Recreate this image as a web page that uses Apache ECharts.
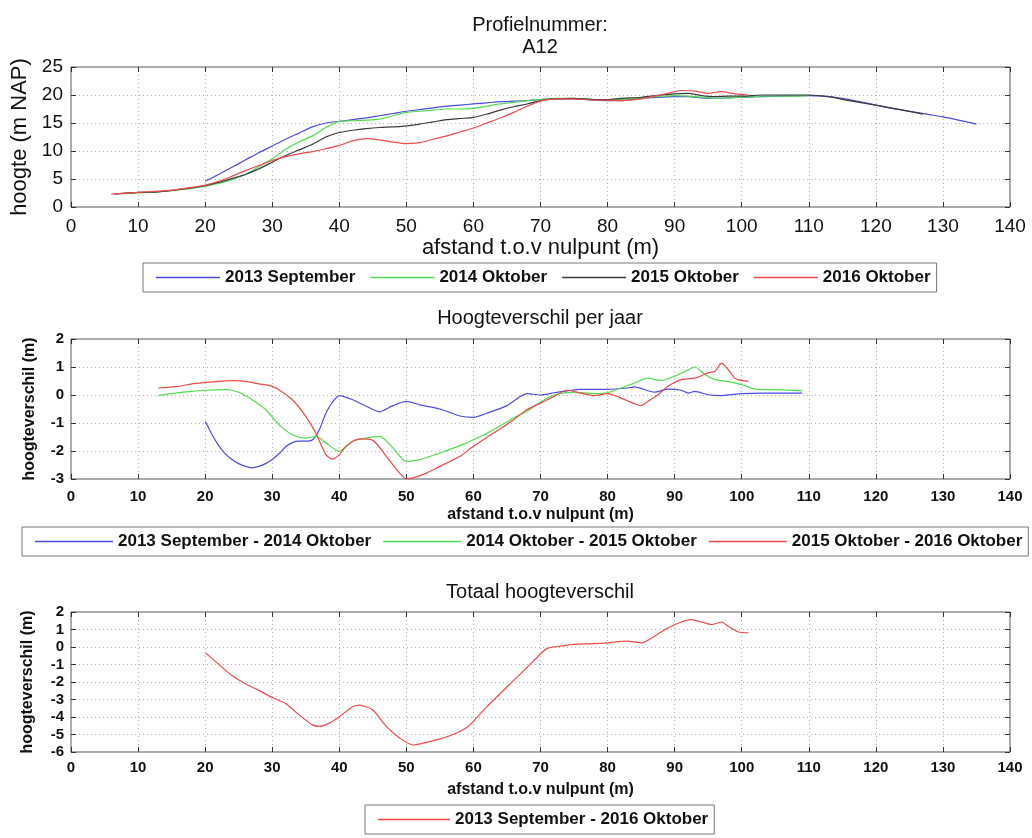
<!DOCTYPE html>
<html>
<head>
<meta charset="utf-8">
<title>Profielnummer A12</title>
<script src="https://cdn.jsdelivr.net/npm/echarts@6/dist/echarts.min.js"></script>
<style>
  html, body { margin: 0; padding: 0; background: #ffffff; }
  #chart { width: 1032px; height: 838px; }
</style>
</head>
<body>
<div id="chart"></div>
<script>
// ---- Profielmetingen: afstand (m) en hoogte (m NAP) ----
const x2013 = [20,22,24,26,28,30,32,34,36,38,40,42,44,46,48,50,52,54,56,58,60,62,64,66,68,70,72,75,78,80,82,85,88,90,92,94,96,98,100,103,106,110,112,115,118,120,122,125,128,130,132,135];
const h2013 = [4.6,5.8,7.1,8.4,9.7,10.9,12.1,13.2,14.3,15.0,15.3,15.6,15.9,16.3,16.7,17.1,17.4,17.7,18.0,18.2,18.4,18.6,18.8,18.9,19.0,19.2,19.3,19.3,19.1,19.0,19.0,19.4,19.6,19.7,19.7,19.5,19.4,19.5,19.6,19.7,19.8,19.9,19.8,19.4,18.7,18.2,17.7,17.1,16.5,16.1,15.6,14.8];

const x2014 = [7.5,10,13,15,18,20,22,24,26,28,30,32,34,36,38,40,42,44,46,48,50,52,54,56,58,60,62,64,66,68,70,72,75,78,80,82,85,88,90,92,94,96,98,100,103,106,110];
const h2014 = [2.4,2.5,2.7,2.9,3.3,3.7,4.2,4.9,5.8,7.2,8.6,10.3,11.6,12.7,14.2,15.3,15.4,15.5,15.7,16.3,16.9,17.1,17.3,17.5,17.5,17.6,18.0,18.4,18.7,19.0,19.2,19.4,19.4,19.2,19.2,19.2,19.5,19.8,19.9,19.8,19.6,19.4,19.5,19.6,19.8,19.8,19.9];

const x2015 = [6.5,10,13,15,18,20,22,24,26,28,30,32,34,36,38,40,42,44,46,48,50,52,54,56,58,60,62,64,66,68,70,72,75,78,80,82,85,88,90,92,94,96,98,100,103,106,110,113,116,120,124,127];
const h2015 = [2.3,2.6,2.7,2.95,3.4,3.8,4.4,5.1,5.8,6.8,8.0,9.2,10.2,11.2,12.5,13.3,13.7,14.0,14.2,14.3,14.5,14.8,15.2,15.6,15.8,16.0,16.6,17.3,17.9,18.4,19.0,19.3,19.4,19.2,19.2,19.4,19.6,20.0,20.2,20.3,19.9,19.7,19.8,19.8,20.0,20.0,20.0,19.7,19.0,18.2,17.3,16.6];

const x2016 = [6,8,10,13,15,18,20,22,24,26,28,30,32,34,36,38,40,42,44,46,48,50,52,54,56,58,60,62,64,66,68,70,72,75,78,80,82,85,87,89,91,93,95,97,99,101];
const h2016 = [2.3,2.45,2.6,2.85,3.0,3.5,3.9,4.6,5.5,6.5,7.4,8.3,9.0,9.5,9.9,10.4,11.0,11.8,12.2,12.0,11.6,11.3,11.5,12.1,12.7,13.4,14.1,15.0,15.9,16.9,18.0,18.9,19.3,19.3,19.1,19.1,19.0,19.3,19.8,20.3,20.8,20.7,20.3,20.6,20.2,20.0];

// ---- Hoogteverschil per jaar (m) ----
const xD1 = [20,21,22,23,24,25,26,27,28,29,30,31,32,33,34,35,36,37,38,39,40,42,44,46,48,50,52,55,58,60,62,65,68,70,72,74,76,80,83,84,87,89,91,92,93,95,97,100,103,106,109];
const d1314 = [-0.94,-1.4,-1.8,-2.1,-2.3,-2.45,-2.55,-2.6,-2.55,-2.45,-2.3,-2.1,-1.85,-1.7,-1.65,-1.65,-1.6,-1.25,-0.65,-0.25,-0.02,-0.17,-0.4,-0.6,-0.38,-0.23,-0.35,-0.5,-0.75,-0.8,-0.65,-0.38,0.05,0.0,0.08,0.15,0.2,0.2,0.25,0.29,0.1,0.21,0.17,0.07,0.13,0.01,-0.02,0.05,0.07,0.07,0.07];

const xD2 = [13,15,18,20,23,25,27,29,31,33,35,36.5,38,40,42,44,46,48,50,52,55,58,60,63,66,68,70,72,75,78,80,82,84,86,88,90,92,93,94.5,96,98,100,102,105,109];
const d1415 = [-0.02,0.05,0.13,0.17,0.19,0.1,-0.17,-0.52,-1.06,-1.42,-1.54,-1.48,-1.71,-2.01,-1.65,-1.54,-1.48,-1.89,-2.37,-2.31,-2.07,-1.81,-1.6,-1.24,-0.82,-0.58,-0.25,0.0,0.1,0.05,0.08,0.25,0.43,0.6,0.52,0.67,0.9,1.0,0.73,0.55,0.48,0.37,0.21,0.19,0.15];

const xD3 = [13,16,18,20,22,24,26,28,30,31,33,35,36.5,38,39,40,41,43,45,47,49,50,51,53,55,58,60,63,66,68,70,72,74,76,78,80,82,84,85,86,87.5,89,91,93,95,96,97,98,99,100,101];
const d1516 = [0.25,0.31,0.4,0.45,0.49,0.51,0.49,0.4,0.31,0.19,-0.17,-0.76,-1.36,-2.13,-2.29,-2.13,-1.83,-1.57,-1.62,-2.19,-2.79,-3.0,-2.96,-2.79,-2.55,-2.19,-1.83,-1.36,-0.88,-0.52,-0.29,-0.05,0.17,0.07,-0.02,0.05,-0.11,-0.31,-0.38,-0.23,0.01,0.31,0.55,0.6,0.79,0.85,1.14,0.9,0.6,0.52,0.49];

// ---- Totaal hoogteverschil (m) ----
const xTot = [20,22,24,26,28,30,32,34,36,37,38.5,40,42,43,45,47,49,51,53,55,57,59,60,62,64,66,68,70,71,72,75,78,80,83,85,87,89,91,92.5,94,95.5,97,98,99.5,101];
const d1316 = [-0.32,-0.98,-1.63,-2.1,-2.48,-2.89,-3.23,-3.88,-4.45,-4.54,-4.35,-3.98,-3.41,-3.32,-3.6,-4.54,-5.2,-5.6,-5.45,-5.25,-5.0,-4.6,-4.25,-3.41,-2.66,-1.91,-1.16,-0.4,-0.08,0.0,0.15,0.19,0.24,0.34,0.24,0.62,1.09,1.43,1.56,1.43,1.28,1.43,1.18,0.86,0.81];

const xAxisTitle = 'afstand t.o.v nulpunt (m)';
const COLORS = { blue: '#4b4bdf', green: '#4fdc4f', black: '#3a3a3a', red: '#ee4a4a' };
const FONT = '"Liberation Sans", Arial, Helvetica, sans-serif';

function zip(xs, ys) { return xs.map((x, i) => [x, ys[i]]); }

const grids = [
  { left: 71, top: 67, width: 939, height: 140 },
  { left: 71, top: 339, width: 939, height: 140 },
  { left: 71, top: 612, width: 939, height: 140 }
].map(g => Object.assign(g, { show: true, borderColor: '#555', borderWidth: 1, backgroundColor: '#fff' }));

const gridLine = { show: true, lineStyle: { color: '#b4b4b4', type: [1, 3], width: 1 } };
const tick = { show: true, inside: true, length: 5, lineStyle: { color: '#333' } };
const noLine = { show: false, onZero: false };

function mainX(gi, big, labelMargin, nameGap) {
  return {
    type: 'value', gridIndex: gi, min: 0, max: 140, interval: 10, position: 'bottom',
    axisLine: noLine, axisTick: tick, splitLine: gridLine,
    axisLabel: big
      ? { fontSize: 19, color: '#111', fontFamily: FONT, margin: labelMargin }
      : { fontSize: 15, fontWeight: 'bold', color: '#111', fontFamily: FONT, margin: labelMargin },
    name: xAxisTitle, nameLocation: 'middle', nameGap,
    nameTextStyle: big
      ? { fontSize: 22, color: '#111', fontFamily: FONT }
      : { fontSize: 16, fontWeight: 'bold', color: '#111', fontFamily: FONT }
  };
}
function topX(gi) {
  return { type: 'value', gridIndex: gi, min: 0, max: 140, interval: 10, position: 'top',
    axisLine: noLine, axisTick: tick, splitLine: { show: false }, axisLabel: { show: false } };
}
function mainY(gi, min, max, interval, name, big, gap) {
  return {
    type: 'value', gridIndex: gi, min, max, interval, position: 'left',
    axisLine: noLine, axisTick: tick, splitLine: gridLine,
    axisLabel: big
      ? { fontSize: 19, color: '#111', fontFamily: FONT, margin: 8 }
      : { fontSize: 15, fontWeight: 'bold', color: '#111', fontFamily: FONT, margin: 7 },
    name, nameLocation: 'middle', nameGap: gap,
    nameTextStyle: big
      ? { fontSize: 22, color: '#111', fontFamily: FONT }
      : { fontSize: 16, fontWeight: 'bold', color: '#111', fontFamily: FONT }
  };
}
function rightY(gi, min, max, interval) {
  return { type: 'value', gridIndex: gi, min, max, interval, position: 'right',
    axisLine: noLine, axisTick: tick, splitLine: { show: false }, axisLabel: { show: false } };
}

function line(name, xs, ys, color, xi, yi) {
  return {
    type: 'line', name, data: zip(xs, ys), xAxisIndex: xi, yAxisIndex: yi,
    symbol: 'none', smooth: 0.25, color,
    lineStyle: { width: 1.2, color }, emphasis: { disabled: true }, animation: false
  };
}

const legendBase = {
  orient: 'horizontal', backgroundColor: '#fff', borderColor: '#777', borderWidth: 1,
  padding: [6, 6, 6, 13], icon: 'rect', itemWidth: 64, itemHeight: 1.5,
  textStyle: { fontSize: 17, fontWeight: 'bold', color: '#111', fontFamily: FONT },
  selectedMode: false
};

const option = {
  backgroundColor: '#ffffff',
  animation: false,
  title: [
    { text: 'Profielnummer:\nA12', left: 540, top: 14, textAlign: 'center', padding: 0,
      textStyle: { fontSize: 20, fontWeight: 'normal', color: '#111', fontFamily: FONT, lineHeight: 22 } },
    { text: 'Hoogteverschil per jaar', left: 540, top: 308, textAlign: 'center', padding: 0,
      textStyle: { fontSize: 20, fontWeight: 'normal', color: '#111', fontFamily: FONT } },
    { text: 'Totaal hoogteverschil', left: 540, top: 582, textAlign: 'center', padding: 0,
      textStyle: { fontSize: 20, fontWeight: 'normal', color: '#111', fontFamily: FONT } }
  ],
  legend: [
    Object.assign({}, legendBase, { left: 143, top: 263, itemGap: 15,
      data: ['2013 September', '2014 Oktober', '2015 Oktober', '2016 Oktober'] }),
    Object.assign({}, legendBase, { left: 22, top: 527, itemGap: 12, itemWidth: 78,
      data: ['2013 September - 2014 Oktober', '2014 Oktober - 2015 Oktober', '2015 Oktober - 2016 Oktober'] }),
    Object.assign({}, legendBase, { left: 365, top: 805, itemWidth: 72,
      data: ['2013 September - 2016 Oktober'] })
  ],
  grid: grids,
  xAxis: [mainX(0, true, 10, 29), topX(0), mainX(1, false, 10, 28), topX(1), mainX(2, false, 8, 30), topX(2)],
  yAxis: [
    mainY(0, 0, 25, 5, 'hoogte (m NAP)', true, 40), rightY(0, 0, 25, 5),
    mainY(1, -3, 2, 1, 'hoogteverschil (m)', false, 33), rightY(1, -3, 2, 1),
    mainY(2, -6, 2, 1, 'hoogteverschil (m)', false, 35), rightY(2, -6, 2, 1)
  ],
  series: [
    line('2013 September', x2013, h2013, COLORS.blue, 0, 0),
    line('2014 Oktober', x2014, h2014, COLORS.green, 0, 0),
    line('2015 Oktober', x2015, h2015, COLORS.black, 0, 0),
    line('2016 Oktober', x2016, h2016, COLORS.red, 0, 0),
    line('2013 September - 2014 Oktober', xD1, d1314, COLORS.blue, 2, 2),
    line('2014 Oktober - 2015 Oktober', xD2, d1415, COLORS.green, 2, 2),
    line('2015 Oktober - 2016 Oktober', xD3, d1516, COLORS.red, 2, 2),
    line('2013 September - 2016 Oktober', xTot, d1316, COLORS.red, 4, 4)
  ]
};

const chart = echarts.init(document.getElementById('chart'), null, { renderer: 'canvas' });
chart.setOption(option);
</script>
</body>
</html>
